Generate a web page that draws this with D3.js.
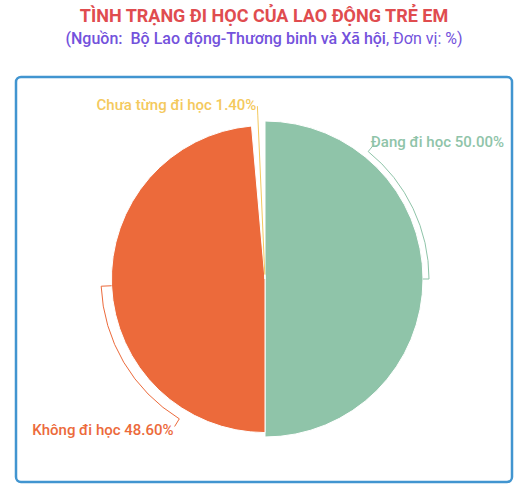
<!DOCTYPE html>
<meta charset="utf-8">
<script src="https://d3js.org/d3.v7.min.js"></script>
<style>
  body { margin: 0; background: #fff; }
  text { font-family: Roboto, "Noto Sans", sans-serif; }
</style>
<div id="viz"></div>
<script>

// data
var categories = ["Đang đi học", "Không đi học", "Chưa từng đi học"];
var values = [50.00, 48.60, 1.40];
var colors = ["#8fc4a9", "#ec6a3b", "#f4c95d"];

var width = 528, height = 493;
var cx = 265, cy = 279;

var svg = d3.select("#viz")
  .append("svg")
    .attr("width", width)
    .attr("height", height);

// frame
svg.append("rect")
  .attr("x", 16)
  .attr("y", 77)
  .attr("width", 496)
  .attr("height", 405)
  .attr("rx", 5)
  .style("fill", "none")
  .style("stroke", "#4195d0")
  .style("stroke-width", 2.5);

// title
svg.append("text")
  .attr("x", 264)
  .attr("y", 22)
  .attr("text-anchor", "middle")
  .style("font-size", "18px")
  .style("font-weight", "bold")
  .style("fill", "#e04c4f")
  .text("TÌNH TRẠNG ĐI HỌC CỦA LAO ĐỘNG TRẺ EM");

var sub = svg.append("text")
  .attr("x", 264)
  .attr("y", 44)
  .attr("text-anchor", "middle")
  .style("font-size", "16px")
  .style("fill", "#7352dc");
sub.append("tspan").style("font-weight", 500)
  .text("(Nguồn:\u00a0\u00a0Bộ Lao động-Thương binh và Xã hội");
sub.append("tspan").text(", Đơn vị: %)");

var data = categories.map(function (c, i) {
  return { name: c, value: values[i], color: colors[i] };
});

// slice radius grows with the value
var r = d3.scaleLinear()
  .domain([0, 50])
  .range([0, 158]);

var pie = d3.pie()
  .sort(null)
  .value(function (d) { return d.value; });

var arc = d3.arc()
  .innerRadius(0)
  .outerRadius(function (d) { return r(d.data.value); });

var arcs = pie(data);

var g = svg.append("g")
  .attr("transform", "translate(" + cx + "," + cy + ")");

g.selectAll("path.slice")
  .data(arcs)
  .enter()
  .append("path")
    .attr("class", "slice")
    .attr("d", arc)
    .style("fill", function (d) { return d.data.color; })
    .style("stroke", "#fff")
    .style("stroke-width", 1);

// label layout: angle (deg, clockwise from top) where the label sits
var labelAngle = [39, 211.5, 357.48];
var labelShift = [[-3, -3], [-1, 3], [-1, -1]];
var tickR = 164, labelR = 173;

function pt(a, rad) {
  return [rad * Math.sin(a), -rad * Math.cos(a)];
}

arcs.forEach(function (d, i) {
  var mid = (d.startAngle + d.endAngle) / 2;
  var la = labelAngle[i] * Math.PI / 180;
  var p = d3.path();
  var s = pt(mid, r(d.data.value));
  p.moveTo(s[0], s[1]);
  var t = pt(mid, tickR);
  p.lineTo(t[0], t[1]);
  if (Math.abs(la - mid) > 0.01) {
    p.arc(0, 0, tickR, mid - Math.PI / 2, la - Math.PI / 2, la < mid);
  }
  var e = pt(la, labelR);
  p.lineTo(e[0], e[1]);

  g.append("path")
    .attr("d", p.toString())
    .style("fill", "none")
    .style("stroke", d.data.color)
    .style("stroke-width", 1);

  var right = Math.sin(la) > 0;
  g.append("text")
    .attr("x", e[0] + labelShift[i][0])
    .attr("y", e[1] + labelShift[i][1])
    .attr("dy", "0.35em")
    .attr("text-anchor", right ? "start" : "end")
    .style("font-size", "15px")
    .style("font-weight", 500)
    .style("fill", d.data.color)
    .text(d.data.name + " " + d.data.value.toFixed(2) + "%");
});

</script>
